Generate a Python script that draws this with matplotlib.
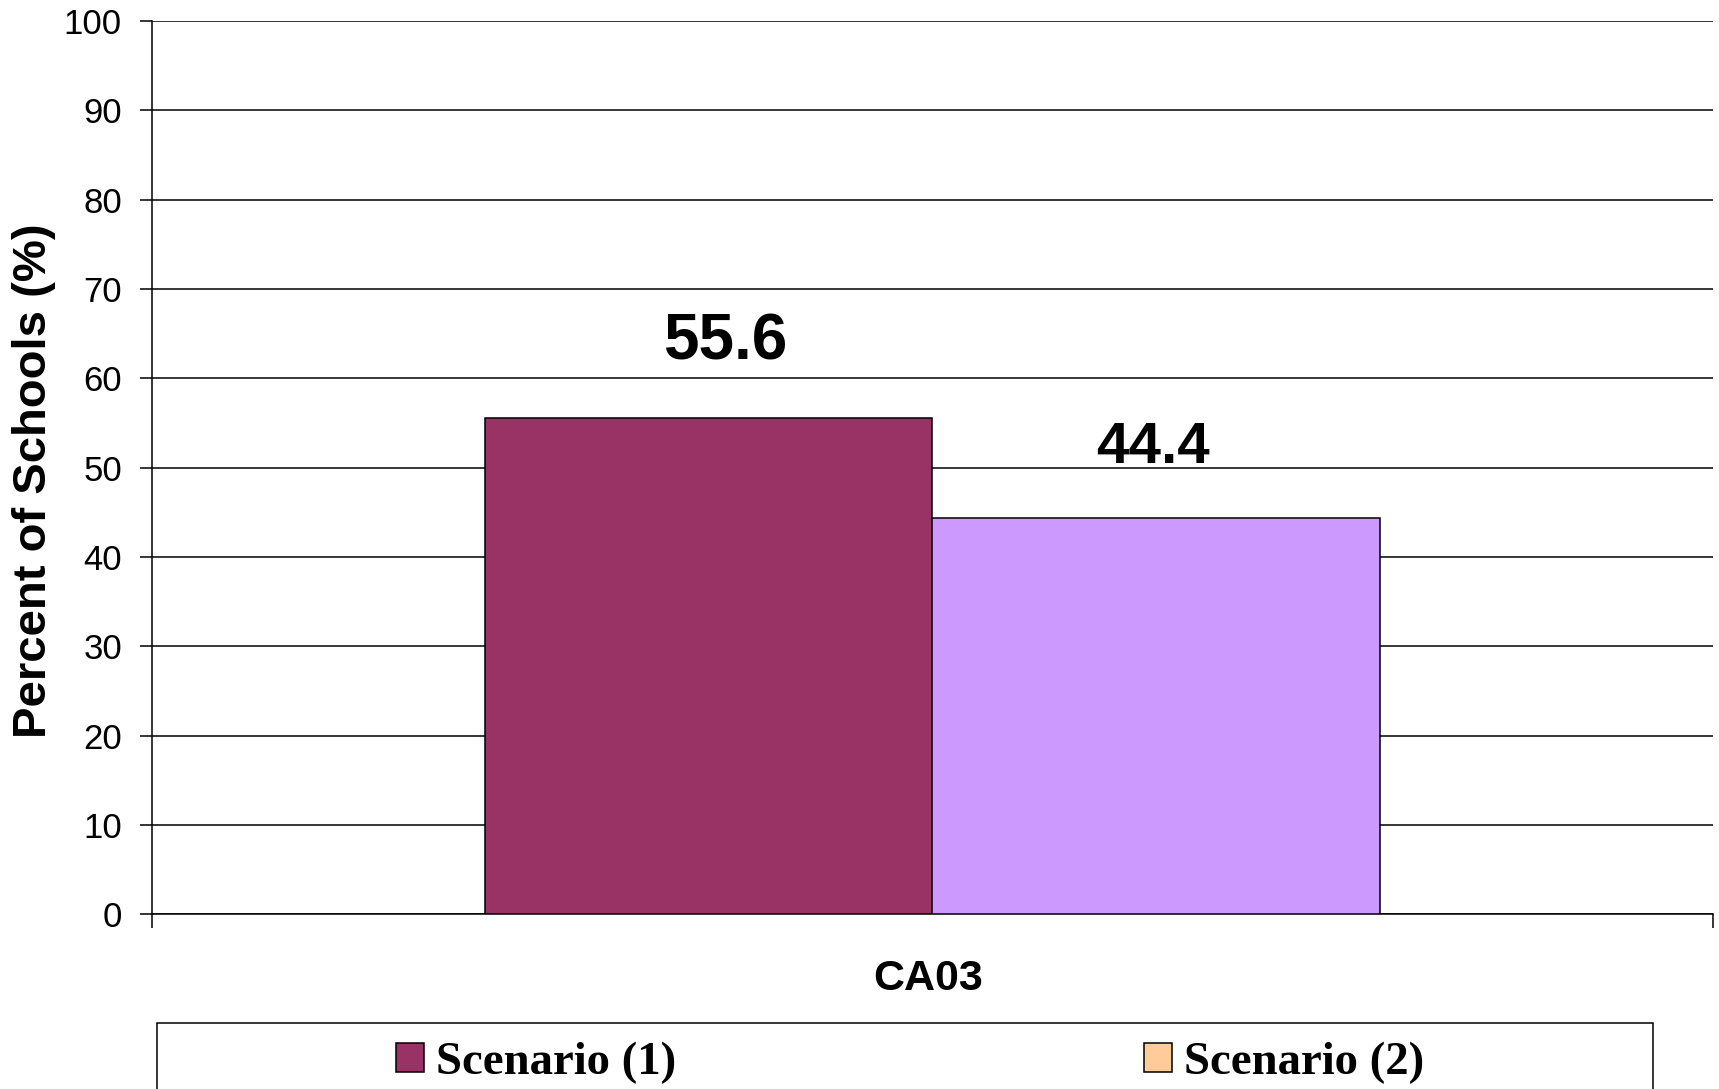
import matplotlib
matplotlib.use("Agg")
import matplotlib.pyplot as plt
from matplotlib.patches import Patch, Rectangle
from matplotlib.transforms import ScaledTranslation

# Data
categories = ["CA03"]
series_names = ["Scenario (1)", "Scenario (2)"]
values = [55.6, 44.4]
bar_colors = ["#993366", "#CC99FF"]
legend_colors = ["#993366", "#FFCC99"]
value_labels = ["55.6", "44.4"]
y_ticks = [0, 10, 20, 30, 40, 50, 60, 70, 80, 90, 100]

plt.rcParams["font.family"] = ["Liberation Sans", "DejaVu Sans"]

fig = plt.figure(figsize=(17.19, 10.89), dpi=100)
ax = fig.add_axes([0.08842, 0.16042, 0.99651 - 0.08842, 0.98072 - 0.16042])

bar_w = 0.2865
offsets = [-bar_w / 2, bar_w / 2]
for i, (name, val, col) in enumerate(zip(series_names, values, bar_colors)):
    ax.bar(0 + offsets[i], val, width=bar_w, color=col,
           edgecolor="black", linewidth=1.1, zorder=3)

# value annotations above the bars
label_sizes = [46, 42]
label_shift = [(11.5, 41.5), (-2.0, 39.5)]
for i, (val, txt) in enumerate(zip(values, value_labels)):
    ax.annotate(txt, xy=(0 + offsets[i], val), xytext=label_shift[i],
                textcoords="offset points", ha="center", va="baseline",
                fontsize=label_sizes[i], fontweight="bold", zorder=4)

ax.set_xlim(-0.5, 0.5)
ax.set_ylim(0, 100)
ax.set_yticks(y_ticks)
ax.set_yticklabels([str(t) for t in y_ticks], fontsize=25)
ax.tick_params(axis="y", direction="out", length=8.6, width=1.1, pad=13)

ax.set_xticks([0])
ax.set_xticklabels(categories, fontsize=31, fontweight="bold")
ax.tick_params(axis="x", which="major", length=0, pad=32.5)
ax.set_xticks([-0.5, 0.5], minor=True)
ax.tick_params(axis="x", which="minor", direction="out", length=10, width=1.1)
# nudge the category label slightly left
for lbl in ax.get_xticklabels():
    lbl.set_transform(lbl.get_transform() + ScaledTranslation(-0.04, 0, fig.dpi_scale_trans))

ax.yaxis.grid(True, color="black", linewidth=1.1, zorder=0)
ax.set_axisbelow(True)
for s in ["top", "right"]:
    ax.spines[s].set_visible(False)
for s in ["left", "bottom"]:
    ax.spines[s].set_linewidth(1.1)

ax.set_ylabel("Percent of Schools (%)", fontsize=34, fontweight="bold")
ax.yaxis.set_label_coords(-0.0615, 0.485)

# legend frame running off the bottom edge
frame = Rectangle((157 / 1719, -0.05), (1653 - 157) / 1719, 0.05 + (1 - 1023 / 1089),
                  transform=fig.transFigure, fill=False, edgecolor="black",
                  linewidth=1.1, clip_on=False)
fig.add_artist(frame)

handles = [Patch(facecolor=c, edgecolor="black", linewidth=1.1) for c in legend_colors]
leg = fig.legend(handles, series_names, loc="lower left",
                 bbox_to_anchor=(396 / 1719, 1 - 1084 / 1089), ncol=2,
                 frameon=False, borderpad=0, borderaxespad=0,
                 prop={"family": "Liberation Serif", "weight": "bold", "size": 33.7},
                 handlelength=0.6, handleheight=0.58, handletextpad=0.25,
                 columnspacing=10.0)

fig.savefig("out.png", dpi=100)
